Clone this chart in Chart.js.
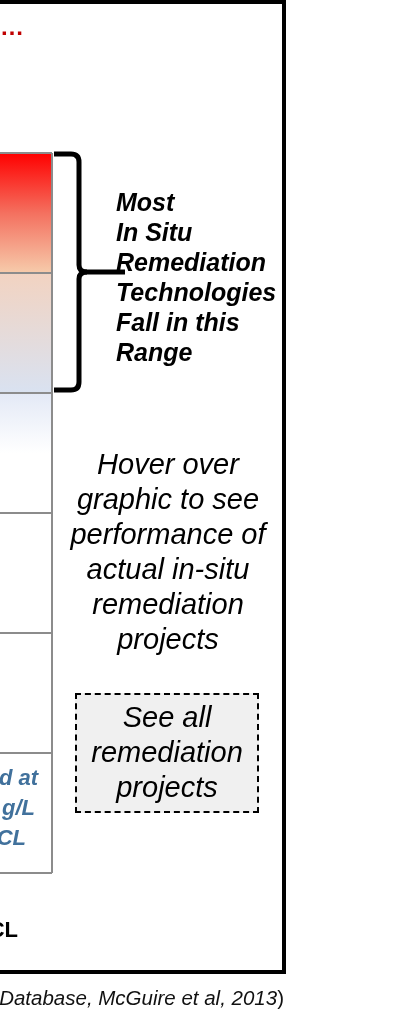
<!DOCTYPE html>
<html>
<head>
<meta charset="utf-8">
<script src="https://cdn.jsdelivr.net/npm/chart.js@4/dist/chart.umd.min.js"></script>
<style>
  html, body { margin:0; padding:0; background:#fff; width:414px; height:1028px; overflow:hidden; }
  body { position:relative; font-family:"Liberation Sans", Arial, sans-serif; }
  .abs { position:absolute; white-space:nowrap; }
  #frame { position:absolute; left:-10px; top:0; width:288px; height:966px; border:4px solid #000; }
  #chartWrap { position:absolute; left:-48px; top:0; width:101px; height:1028px; }
  #dots { left:0; top:15px; font-size:24px; line-height:24px; color:#c00000; font-weight:bold; }
  #range { left:116px; top:187px; font-size:25px; line-height:30px; font-weight:bold; font-style:italic; color:#000; }
  #hover { left:50px; width:236px; top:447px; font-size:29px; line-height:35px; font-style:italic; text-align:center; color:#000; }
  #seeall { left:75px; top:693px; width:180px; height:116px; border:2px dashed #000; background:#f0f0f0; box-sizing:content-box; }
  #seeallText { left:60px; width:214px; top:700px; font-size:29px; line-height:35px; font-style:italic; text-align:center; color:#000; }
  .blue { font-size:22px; line-height:30px; font-weight:bold; font-style:italic; color:#41719c; text-align:right; }
  #mcl { font-size:22px; line-height:30px; font-weight:bold; color:#000; text-align:right; }
  #caption { right:130px; top:988px; font-size:20.5px; line-height:20px; color:#111; }
</style>
</head>
<body>
<div id="frame"></div>
<div id="chartWrap"><canvas id="c" width="101" height="1028" style="width:101px;height:1028px"></canvas></div>
<svg class="abs" style="left:0;top:0" width="414" height="1028">
  <path d="M54,154 H71 Q79,154 79,162 V265 Q79,272 87,272 Q79,272 79,279 V382 Q79,390 71,390 H54" fill="none" stroke="#000" stroke-width="5"/>
  <path d="M80,272 H125" fill="none" stroke="#000" stroke-width="5"/>
</svg>
<div id="dots" class="abs">…</div>
<div id="range" class="abs">Most<br>In Situ<br>Remediation<br>Technologies<br>Fall in this<br>Range</div>
<div id="hover" class="abs">Hover over<br>graphic to see<br>performance of<br>actual in-situ<br>remediation<br>projects</div>
<div id="seeall" class="abs"></div>
<div id="seeallText" class="abs">See all<br>remediation<br>projects</div>
<div class="abs blue" style="right:376px;top:763px">d at</div>
<div class="abs blue" style="right:379px;top:793px">g/L</div>
<div class="abs blue" style="right:388px;top:823px">CL</div>
<div id="mcl" class="abs" style="right:396px;top:915px">CL</div>
<div id="caption" class="abs"><i>Database, McGuire et al, 2013</i>)</div>
<script>
// Bands of the vertical scale (top to bottom), each one band tall
const bandNames = ['Band 1', 'Band 2', 'Band 3', 'Band 4', 'Band 5', 'Band 6'];
const bandSizes = [1, 1, 1, 1, 1, 1];
const categories = [''];

// gradient stops per band (style)
const bandGradients = [
  [[0, '#ff0000'], [0.5, '#f4705f'], [1, '#f6cbab']],
  [[0, '#f2d3c1'], [1, '#d9e2f1']],
  [[0, '#e3e9f6'], [0.5, '#ffffff'], [1, '#ffffff']],
  [[0, '#ffffff'], [1, '#ffffff']],
  [[0, '#ffffff'], [1, '#ffffff']],
  [[0, '#ffffff'], [1, '#ffffff']]
];

function bandFill(ctx) {
  const chart = ctx.chart;
  const i = ctx.datasetIndex;
  const stops = bandGradients[i];
  if (!chart.chartArea) return stops[0][1];
  const y = chart.scales.y;
  let start = 0;
  for (let k = 0; k < i; k++) start += bandSizes[k];
  const y0 = y.getPixelForValue(start);
  const y1 = y.getPixelForValue(start + bandSizes[i]);
  const g = chart.ctx.createLinearGradient(0, y0, 0, y1);
  stops.forEach(s => g.addColorStop(s[0], s[1]));
  return g;
}

const total = bandSizes.reduce((a, b) => a + b, 0);

new Chart(document.getElementById('c'), {
  type: 'bar',
  data: {
    labels: categories,
    datasets: bandNames.map((name, i) => ({
      label: name,
      data: [bandSizes[i]],
      backgroundColor: bandFill,
      borderWidth: 0,
      barPercentage: 1,
      categoryPercentage: 1
    }))
  },
  options: {
    responsive: false,
    animation: false,
    devicePixelRatio: 1,
    layout: { padding: { top: 153, bottom: 155, left: 0, right: 1 } },
    plugins: { legend: { display: false }, tooltip: { enabled: false } },
    scales: {
      x: {
        stacked: true,
        grid: { z: 1, color: '#8c8c8c', lineWidth: 2, offset: true, drawTicks: false },
        ticks: { display: false },
        border: { display: false }
      },
      y: {
        stacked: true,
        reverse: true,
        min: 0,
        max: total,
        grid: { z: 1, color: '#8c8c8c', lineWidth: 2, drawTicks: false },
        ticks: { display: false, stepSize: 1 },
        border: { display: false }
      }
    }
  }
});
</script>
</body>
</html>
